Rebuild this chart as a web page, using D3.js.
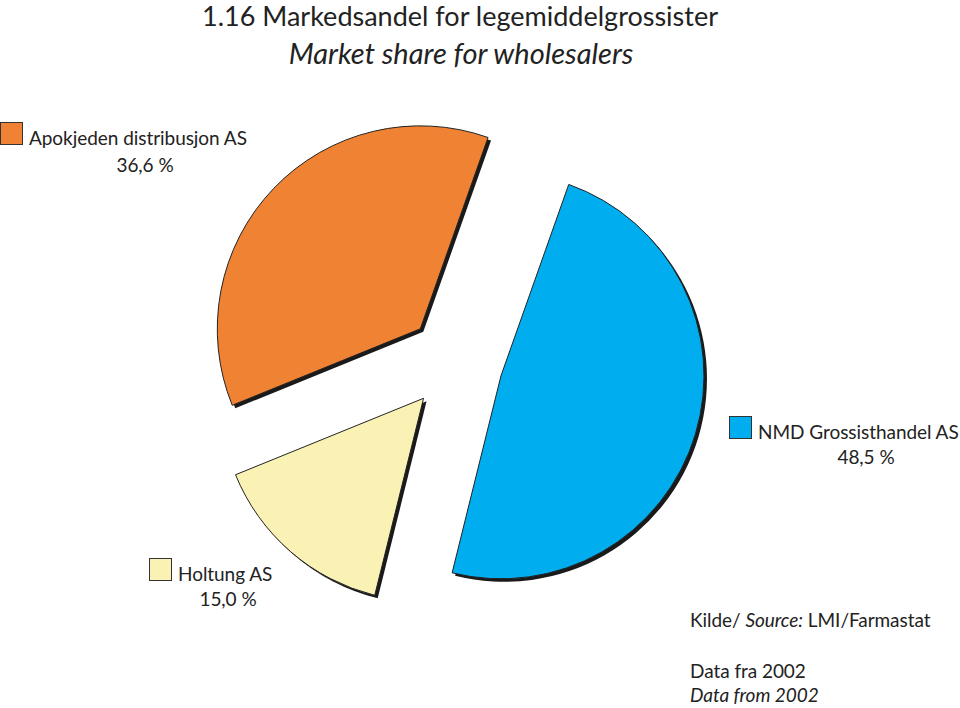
<!DOCTYPE html>
<html>
<head>
<meta charset="utf-8">
<script src="https://cdn.jsdelivr.net/npm/d3@7"></script>
<style>
  html, body { margin: 0; padding: 0; background: #fff; }
  svg { display: block; font-family: Lato, "Noto Sans", sans-serif; }
</style>
</head>
<body>
<svg id="chart" width="960" height="708"></svg>
<script>
// Data
const categories = ["NMD Grossisthandel AS", "Holtung AS", "Apokjeden distribusjon AS"];
const values = [48.5, 15.0, 36.6];
const valueLabels = ["48,5 %", "15,0 %", "36,6 %"];
const colors = ["#00AEEF", "#F9F2B4", "#F08234"];

const svg = d3.select("#chart");
const textColor = "#222";
const fs = 19, ls = -0.05;

// Title
svg.append("text").attr("x", 460).attr("y", 26).attr("text-anchor", "middle")
  .attr("font-size", 27).attr("fill", textColor)
  .text("1.16 Markedsandel for legemiddelgrossister");
svg.append("text").attr("x", 461).attr("y", 64).attr("text-anchor", "middle")
  .attr("font-size", 29).attr("font-style", "italic").attr("fill", textColor)
  .text("Market share for wholesalers");

// Pie
const cx = 455, cy = 362, R = 203, explode = 48;
const startDeg = 19.5;
const pie = d3.pie().sort(null).value(d => d)
  .startAngle(startDeg * Math.PI / 180)
  .endAngle((startDeg + 360) * Math.PI / 180);
const arc = d3.arc().innerRadius(0).outerRadius(R);
const arcs = pie(values);

const g = svg.append("g").attr("transform", `translate(${cx},${cy})`);
const slices = g.selectAll("g.slice").data(arcs).enter().append("g")
  .attr("class", "slice")
  .attr("transform", d => {
    const a = (d.startAngle + d.endAngle) / 2;
    return `translate(${explode * Math.sin(a)},${-explode * Math.cos(a)})`;
  });
slices.append("path").attr("d", arc).attr("fill", "#1a1a1a")
  .attr("transform", "translate(3,3)");
slices.append("path").attr("d", arc).attr("fill", (d, i) => colors[i])
  .attr("stroke", "#222").attr("stroke-width", 1);

// Legends
const legend = [
  { i: 2, sx: 0, sy: 122, tx: 29, ty: 145, px: 145, py: 172 },
  { i: 0, sx: 729, sy: 416, tx: 758, ty: 439, px: 866, py: 464 },
  { i: 1, sx: 149, sy: 558, tx: 178, ty: 581, px: 228, py: 606 }
];
legend.forEach(l => {
  svg.append("rect").attr("x", l.sx + 0.5).attr("y", l.sy + 0.5).attr("width", 22).attr("height", 22)
    .attr("fill", colors[l.i]).attr("stroke", "#333").attr("stroke-width", 1);
  svg.append("text").attr("x", l.tx).attr("y", l.ty).attr("font-size", fs).attr("letter-spacing", ls)
    .attr("fill", textColor).text(categories[l.i]);
  svg.append("text").attr("x", l.px).attr("y", l.py).attr("font-size", fs).attr("letter-spacing", ls)
    .attr("fill", textColor).attr("text-anchor", "middle").text(valueLabels[l.i]);
});

// Source
const src = svg.append("text").attr("x", 690).attr("y", 627).attr("font-size", fs)
  .attr("letter-spacing", ls).attr("fill", textColor);
src.append("tspan").text("Kilde/ ");
src.append("tspan").attr("font-style", "italic").text("Source:");
src.append("tspan").text(" LMI/Farmastat");
svg.append("text").attr("x", 690).attr("y", 678).attr("font-size", fs).attr("letter-spacing", ls)
  .attr("fill", textColor).text("Data fra 2002");
svg.append("text").attr("x", 690).attr("y", 702).attr("font-size", fs).attr("letter-spacing", ls)
  .attr("font-style", "italic").attr("fill", textColor).text("Data from 2002");
</script>
</body>
</html>
